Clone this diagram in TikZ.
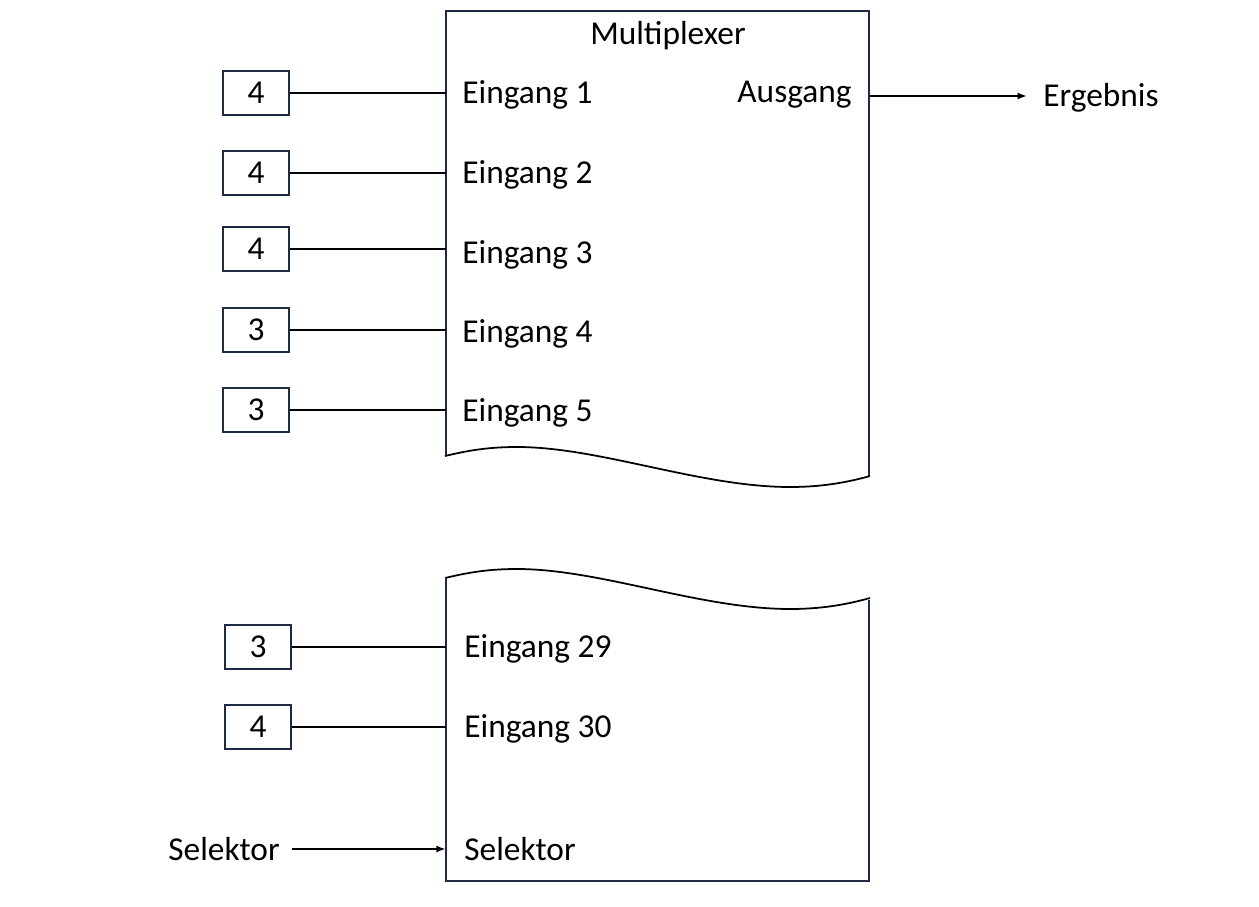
\documentclass[tikz,border=0pt]{standalone}
\usepackage{fontspec}
\setmainfont{Carlito}
\usepackage{xcolor}
\usetikzlibrary{arrows.meta, positioning}
\definecolor{muxblue}{HTML}{1F2B45}

\begin{document}
\begin{tikzpicture}[x=0.02cm, y=-0.02cm,
		numbox/.style = {draw = muxblue, line width = 1.1pt, minimum width = 1.32cm, minimum height = 0.88cm},
		wire/.style = {draw, line width = 1.1pt},
		sig/.style = {wire, -{Latex[length=5.5pt, width=4pt]}}]
		\tikzstyle{every node} = [font = \fontsize{19}{23}\selectfont, inner sep = 0pt]
			\useasboundingbox (0,0) rectangle (1259,907);
			% multiplexer, upper part
			\path[draw, muxblue, line width = 1.1pt](446,456)--(446,11)--(869,11)--(869,476);
			\path[draw, line width = 1pt](445,456) .. controls (470,450) and (490,447) .. (517,447)
				.. controls (600,447) and (700,487) .. (790,487) .. controls (820,487) and (845,483) .. (870,476);
			% multiplexer, lower part
			\path[draw, line width = 1pt](445,578) .. controls (470,572) and (490,569) .. (517,569)
				.. controls (600,569) and (700,609) .. (790,609) .. controls (820,609) and (845,605) .. (870,598);
			\path[draw, muxblue, line width = 1.1pt](446,578)--(446,881)--(869,881)--(869,600);
			\coordinate (upL) at (446,93);
			\coordinate (lowL) at (446,727);
			\coordinate (outR) at (870,96);
			\node (title) at (668,36) {Multiplexer};
			\node[anchor = east] (ausg) at (852,95) {Ausgang};
			\node[anchor = west] (erg) at (1043,98) {Ergebnis};
			% inputs
			\node[numbox] (in1) at (256,93) {4};
			\node[numbox] (in2) at (256,173) {4};
			\node[numbox] (in3) at (256,249) {4};
			\node[numbox] (in4) at (256,330) {3};
			\node[numbox] (in5) at (256,410) {3};
			\node[numbox] (in29) at (258,647) {3};
			\node[numbox] (in30) at (258,727) {4};
			\node[anchor = west] (e1) at (462,95) {Eingang 1};
			\node[anchor = west] (e2) at (462,175) {Eingang 2};
			\node[anchor = west] (e3) at (462,255) {Eingang 3};
			\node[anchor = west] (e4) at (462,334) {Eingang 4};
			\node[anchor = west] (e5) at (462,413) {Eingang 5};
			\node[anchor = west] (e29) at (464,649) {Eingang 29};
			\node[anchor = west] (e30) at (464,729) {Eingang 30};
			\node[anchor = west] (sel) at (464,849) {Selektor};
			\node[anchor = east] (selin) at (280,849) {Selektor};
			\path[wire](in1.east)--(in1.east -| upL);
			\path[wire](in2.east)--(in2.east -| upL);
			\path[wire](in3.east)--(in3.east -| upL);
			\path[wire](in4.east)--(in4.east -| upL);
			\path[wire](in5.east)--(in5.east -| upL);
			\path[wire](in29.east)--(in29.east -| lowL);
			\path[wire](in30.east)--(in30.east -| lowL);
			\path[sig, shorten < = 7pt](selin.east)--(selin.east -| lowL);
			\path[sig, shorten > = 9pt](outR)--(outR -| erg.west);
		\end{tikzpicture}
\end{document}
